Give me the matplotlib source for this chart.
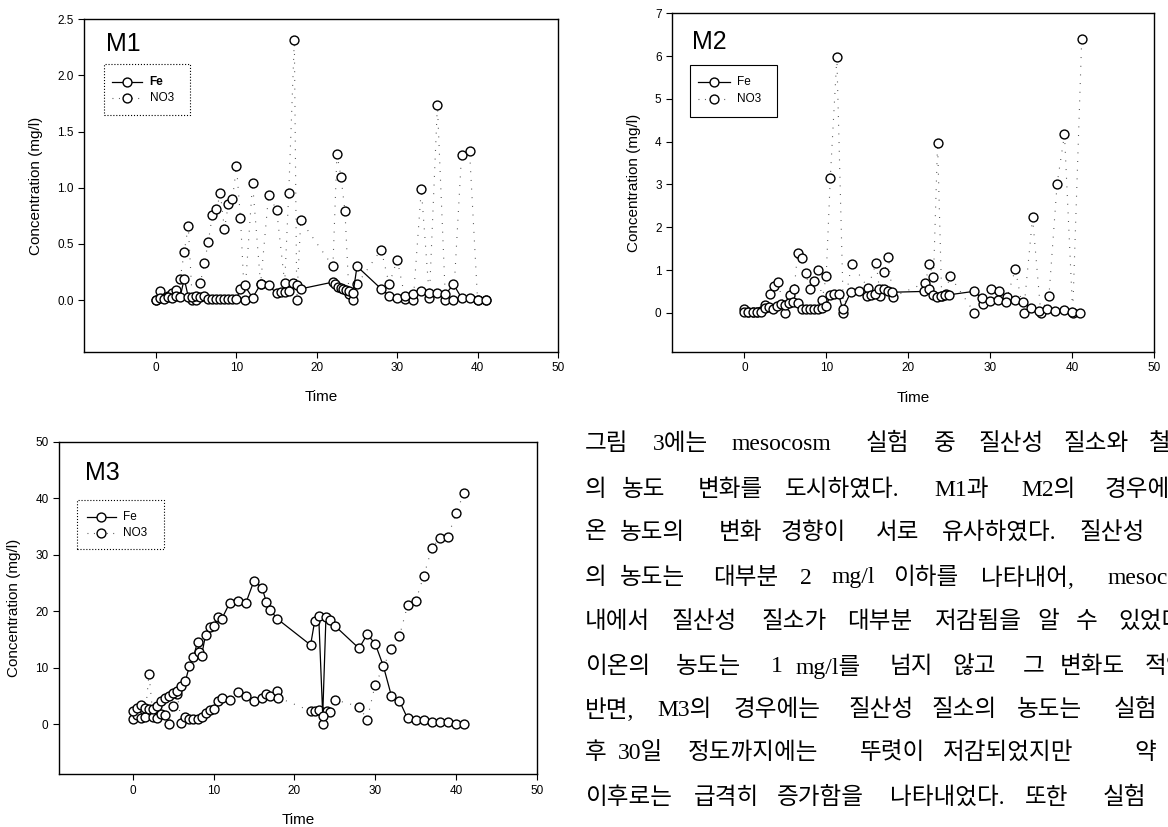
import matplotlib
matplotlib.use('Agg')
import matplotlib.pyplot as plt
from matplotlib.patches import Rectangle

plt.rcParams['font.family'] = ['Liberation Sans', 'DejaVu Sans']

# ---------------- data ----------------
# M1
m1_fe_t = [0, 0.5, 1, 1.5, 2, 2.5, 3, 3.5, 4, 4.5, 5, 5.5, 6, 6.5, 7, 7.5, 8, 8.5, 9, 9.5, 10,
           10.5, 11, 12, 13, 14, 15, 15.5, 16, 16.5, 17, 17.5, 18,
           22, 22.3, 22.6, 23, 23.3, 23.6, 24, 24.5, 25,
           28, 29, 30, 31, 32, 33, 34, 35, 36, 37, 38, 39, 40, 41]
m1_fe = [0, 0.02, 0.01, 0.03, 0.02, 0.04, 0.03, 0.19, 0.03, 0.03, 0.04, 0.03, 0.04, 0.01, 0.01,
         0.01, 0.01, 0.01, 0.01, 0.01, 0.01,
         0.10, 0.13, 0.02, 0.14, 0.13, 0.06, 0.07, 0.07, 0.08, 0.15, 0.13, 0.10,
         0.16, 0.14, 0.12, 0.11, 0.10, 0.09, 0.08, 0.06, 0.30,
         0.10, 0.04, 0.02, 0.04, 0.05, 0.08, 0.06, 0.06, 0.05, 0.14, 0.02, 0.02, 0.00, 0.00]
m1_no3_t = [0, 0.5, 1, 1.5, 2, 2.5, 3, 3.5, 4, 4.5, 5, 5.5, 6, 6.5, 7, 7.5, 8, 8.5, 9, 9.5,
            10, 10.5, 11, 12, 13, 14, 15, 16, 16.5, 17.2, 17.5, 18,
            22, 22.5, 23, 23.5, 24, 24.5, 25, 28, 29, 30, 31, 32, 33, 34, 35, 36, 37, 38, 39, 40, 41]
m1_no3 = [0, 0.08, 0.02, 0.04, 0.06, 0.09, 0.19, 0.43, 0.66, 0.0, 0.0, 0.15, 0.33, 0.52, 0.76,
          0.81, 0.95, 0.63, 0.86, 0.90, 1.19, 0.73, 0.0, 1.04, 0.14, 0.94, 0.80, 0.15, 0.95,
          2.32, 0.0, 0.71, 0.30, 1.30, 1.10, 0.79, 0.05, 0.0, 0.14, 0.45, 0.14, 0.36, 0.01,
          0.0, 0.99, 0.02, 1.74, 0.0, 0.0, 1.29, 1.33, 0.0, 0.0]

# M2
m2_fe_t = [0, 0.5, 1, 1.5, 2, 2.5, 3, 3.5, 4, 4.5, 5, 5.5, 6, 6.5, 7, 7.5, 8, 8.5, 9, 9.5,
           10, 10.5, 11, 11.5, 12, 13, 14, 15, 15.5, 16, 16.5, 17, 17.5, 18,
           22, 22.5, 23, 23.5, 24, 24.5, 25, 28, 29, 30, 31, 32, 33, 34, 35, 36, 37, 38, 39, 40, 41]
m2_fe = [0.03, 0.02, 0.02, 0.02, 0.03, 0.12, 0.14, 0.10, 0.15, 0.20, 0.18, 0.22, 0.25, 0.24,
         0.10, 0.08, 0.08, 0.08, 0.10, 0.12, 0.15, 0.42, 0.45, 0.44, 0.08, 0.48, 0.50, 0.40,
         0.42, 0.45, 0.55, 0.55, 0.50, 0.48, 0.50, 0.55, 0.42, 0.38, 0.40, 0.42, 0.42, 0.50,
         0.35, 0.28, 0.30, 0.25, 0.30, 0.25, 0.12, 0.05, 0.10, 0.04, 0.06, 0.02, 0.00]
m2_no3_t = [0, 0.5, 1, 1.5, 2, 2.5, 3.1, 3.6, 4.1, 5.0, 5.6, 6.1, 6.5, 7.1, 7.5, 8.0, 8.5, 9.0,
            9.5, 10.0, 10.5, 11.3, 12.1, 13.1, 15.1, 16.1, 16.6, 17.1, 17.6, 18.1, 22.1, 22.6,
            23.1, 23.6, 24.1, 24.6, 25.1, 28.1, 29.1, 30.1, 31.1, 32.1, 33.1, 34.1, 35.2, 36.2,
            37.2, 38.2, 39.1, 40.1, 41.2]
m2_no3 = [0.08, 0.02, 0.02, 0.02, 0.04, 0.18, 0.44, 0.62, 0.72, 0.0, 0.41, 0.56, 1.40, 1.29,
          0.92, 0.56, 0.75, 1.01, 0.30, 0.87, 3.16, 5.97, 0.0, 1.15, 0.59, 1.17, 0.39, 0.96,
          1.31, 0.37, 0.70, 1.14, 0.83, 3.97, 0.39, 0.44, 0.87, 0.0, 0.20, 0.56, 0.51, 0.37,
          1.02, 0.0, 2.23, 0.0, 0.39, 3.02, 4.17, 0.0, 6.39]

# M3
m3_fe_t = [0, 0.5, 1, 1.5, 2, 2.5, 3, 3.5, 4, 4.5, 5, 5.5, 6, 6.5, 7, 7.5, 8, 8.2, 8.5, 9,
           9.5, 10, 10.5, 11, 12, 13, 14, 15, 16, 16.5, 17, 17.9, 22, 22.5, 23, 23.5, 23.9,
           24.4, 25, 28, 29, 30, 31, 32, 33, 34, 35, 36, 37, 38, 39, 40, 41]
m3_fe = [2.3, 2.9, 3.4, 2.8, 2.7, 2.6, 3.2, 4.0, 4.6, 5.0, 5.5, 5.9, 6.7, 7.6, 10.3, 11.8,
         14.6, 12.8, 12.1, 15.8, 17.2, 17.4, 18.9, 18.6, 21.5, 21.8, 21.5, 25.4, 24.1, 21.7,
         20.2, 18.6, 14.0, 18.2, 19.2, 1.5, 19.0, 18.4, 17.4, 13.4, 15.9, 14.2, 10.3, 5.0,
         4.1, 1.0, 0.7, 0.7, 0.4, 0.4, 0.4, 0.0, 0.0]
m3_no3_t = [0, 0.5, 1, 1.5, 2, 2.5, 3, 3.5, 4, 4.5, 5, 5.5, 6, 6.5, 7, 7.5, 8, 8.5, 9, 9.5,
            10, 10.5, 11, 12, 13, 14, 15, 16, 16.5, 17, 17.9, 18, 22, 22.5, 23, 23.5, 24,
            24.4, 25, 28, 29, 30, 32, 33, 34, 35, 36, 37, 38, 39, 40, 41]
m3_no3 = [0.9, 1.6, 1.0, 1.2, 8.9, 1.2, 1.0, 1.7, 1.6, 0.0, 3.2, 5.3, 0.1, 1.2, 0.9, 0.9,
          0.9, 1.3, 1.9, 2.5, 2.6, 4.1, 4.6, 4.3, 5.7, 5.0, 4.1, 4.7, 5.4, 5.0, 5.8, 4.7,
          2.3, 2.3, 2.5, 0.0, 2.3, 2.2, 4.3, 3.1, 0.8, 7.0, 13.3, 15.6, 21.0, 21.8, 26.2,
          31.1, 33.0, 33.2, 37.3, 41.0]

m1_yticks = [0.0, 0.5, 1.0, 1.5, 2.0, 2.5]
m2_yticks = [0, 1, 2, 3, 4, 5, 6, 7]
m3_yticks = [0, 10, 20, 30, 40, 50]
xticks = [0, 10, 20, 30, 40, 50]

fig = plt.figure(figsize=(11.68, 8.27), dpi=100)

MK = dict(marker='o', ms=6.4, mfc='white', mec='black', mew=1.0)


def panel(rect, fe_t, fe, no3_t, no3, xlim, ylim, yticks, yfmt, name, name_xy,
          box, rows, hx, tx, ylab_x, box_ls, fe_bold=False):
    ax = fig.add_axes(rect)
    ax.plot(no3_t, no3, linestyle=(0, (0.8, 7)), lw=0.8, color='#444', **MK)
    ax.plot(fe_t, fe, '-', lw=0.9, color='black', **MK)
    ax.set_xlim(*xlim)
    ax.set_ylim(*ylim)
    ax.set_xticks(xticks)
    ax.set_yticks(yticks)
    ax.set_yticklabels([yfmt.format(v) for v in yticks])
    ax.tick_params(direction='out', length=4, width=0.8, labelsize=8.5, pad=3.5)
    for s in ax.spines.values():
        s.set_linewidth(1.0)
    ax.set_xlabel('Time', fontsize=11, va='center')
    ax.xaxis.set_label_coords(0.5, -0.136)
    ax.set_ylabel('Concentration (mg/l)', fontsize=11, va='center')
    ax.yaxis.set_label_coords(-ylab_x, 0.5)

    ax.text(name_xy[0], name_xy[1], name, transform=ax.transAxes,
            fontsize=18, ha='left', va='center')

    # legend box
    l, r, t, b = box
    ax.add_patch(Rectangle((l, b), r - l, t - b, transform=ax.transAxes,
                           fill=False, lw=0.8, ls=box_ls, color='black', clip_on=False))
    xm = (hx[0] + hx[1]) / 2
    ax.plot([hx[0], xm, hx[1]], [rows[0]] * 3, '-', lw=0.9, color='black',
            markevery=[1], transform=ax.transAxes, clip_on=False, **MK)
    ax.plot([hx[0], xm, hx[1]], [rows[1]] * 3, linestyle=(0, (0.8, 5)), lw=0.8,
            color='#444', markevery=[1], transform=ax.transAxes, clip_on=False, **MK)
    ax.text(tx, rows[0], 'Fe', transform=ax.transAxes, fontsize=8.5, va='center',
            fontweight='bold' if fe_bold else 'normal')
    ax.text(tx, rows[1], 'NO3', transform=ax.transAxes, fontsize=8.5, va='center')
    return ax


panel([0.0722, 0.5747, 0.4055, 0.4019], m1_fe_t, m1_fe, m1_no3_t, m1_no3,
      (-8.93, 50), (-0.46, 2.5), m1_yticks, '{:.1f}', 'M1', (0.046, 0.926),
      (0.041, 0.224, 0.866, 0.712), (0.812, 0.762), (0.058, 0.122), 0.138, 0.103, ':',
      fe_bold=True)

panel([0.5753, 0.5747, 0.4125, 0.4092], m2_fe_t, m2_fe, m2_no3_t, m2_no3,
      (-8.84, 50), (-0.91, 7), m2_yticks, '{:d}', 'M2', (0.041, 0.916),
      (0.037, 0.219, 0.847, 0.694), (0.798, 0.746), (0.054, 0.121), 0.134, 0.079, '-')

panel([0.0504, 0.0637, 0.4092, 0.4022], m3_fe_t, m3_fe, m3_no3_t, m3_no3,
      (-9.16, 50), (-8.9, 50), m3_yticks, '{:d}', 'M3', (0.054, 0.905),
      (0.037, 0.219, 0.825, 0.676), (0.775, 0.726), (0.058, 0.12), 0.135, 0.093, ':')

# ---------------- body text (justified, cut at the page edge as in the scan) ----------------
line_y = [444, 490, 533, 578, 622, 667, 710, 753, 798]
lines = [
    [(585, '그림'), (653, '3에는'), (732, 'mesocosm'), (866, '실험'), (934, '중'),
     (979, '질산성'), (1064, '질소와'), (1149, '철이온')],
    [(585, '의'), (622, '농도'), (698, '변화를'), (785, '도시하였다.'), (934, 'M1과'),
     (1021, 'M2의'), (1105, '경우에는')],
    [(585, '온'), (620, '농도의'), (719, '변화'), (781, '경향이'), (876, '서로'),
     (942, '유사하였다.'), (1080, '질산성')],
    [(585, '의'), (620, '농도는'), (713, '대부분'), (800, '2'), (831, 'mg/l'),
     (893, '이하를'), (981, '나타내어,'), (1107, 'mesocosm')],
    [(585, '내에서'), (672, '질산성'), (762, '질소가'), (847, '대부분'), (934, '저감됨을'),
     (1037, '알'), (1076, '수'), (1118, '있었다.')],
    [(585, '이온의'), (676, '농도는'), (771, '1'), (796, 'mg/l를'), (890, '넘지'),
     (952, '않고'), (1023, '그'), (1060, '변화도'), (1145, '적었다.')],
    [(585, '반면,'), (657, 'M3의'), (734, '경우에는'), (849, '질산성'), (932, '질소의'),
     (1017, '농도는'), (1114, '실험')],
    [(585, '후'), (618, '30일'), (688, '정도까지에는'), (860, '뚜렷이'), (942, '저감되었지만'),
     (1134, '약')],
    [(585, '이후로는'), (694, '급격히'), (777, '증가함을'), (890, '나타내었다.'), (1025, '또한'),
     (1103, '실험')],
]
for y, words in zip(line_y, lines):
    for x, w in words:
        fig.text(x / 1168, 1 - y / 827, w, fontsize=17, ha='left', va='center',
                 family=['Liberation Serif', 'Noto Sans CJK KR'])

fig.savefig('out.png', dpi=100)
